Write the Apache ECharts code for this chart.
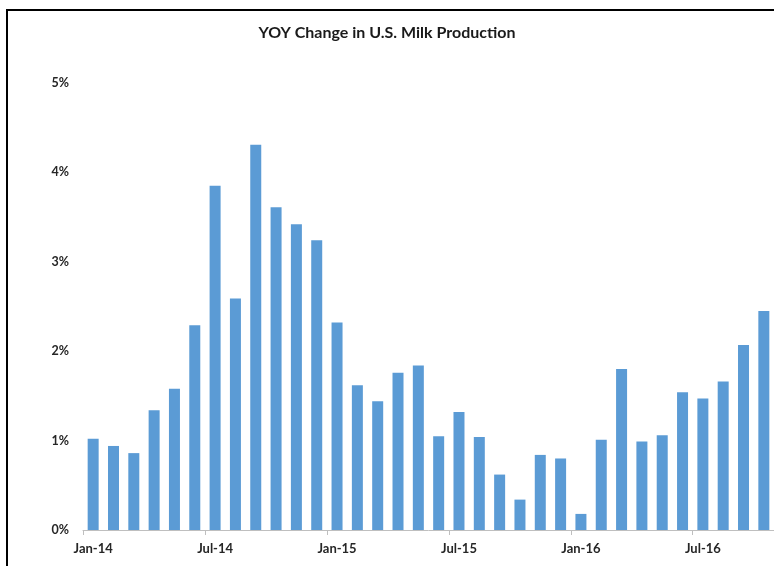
<!DOCTYPE html>
<html>
<head>
<meta charset="utf-8">
<script src="https://cdn.jsdelivr.net/npm/echarts@6/dist/echarts.min.js"></script>
<style>
html,body{margin:0;padding:0;background:#fff;overflow:hidden;}
#chart{width:774px;height:566px;}
</style>
</head>
<body>
<div id="chart"></div>
<script>
const chartTitle = "YOY Change in U.S. Milk Production";
const months = [
  "Jan-14","Feb-14","Mar-14","Apr-14","May-14","Jun-14","Jul-14","Aug-14","Sep-14","Oct-14","Nov-14","Dec-14",
  "Jan-15","Feb-15","Mar-15","Apr-15","May-15","Jun-15","Jul-15","Aug-15","Sep-15","Oct-15","Nov-15","Dec-15",
  "Jan-16","Feb-16","Mar-16","Apr-16","May-16","Jun-16","Jul-16","Aug-16","Sep-16","Oct-16"
];
const yoyChange = [
  1.02, 0.94, 0.86, 1.34, 1.58, 2.29, 3.85, 2.59, 4.31, 3.61, 3.42, 3.24,
  2.32, 1.62, 1.44, 1.76, 1.84, 1.05, 1.32, 1.04, 0.62, 0.34, 0.84, 0.80,
  0.18, 1.01, 1.80, 0.99, 1.06, 1.54, 1.47, 1.66, 2.07, 2.45
];
const yMin = 0, yMax = 5, yStep = 1;

const chart = echarts.init(document.getElementById('chart'), null, {renderer: 'canvas'});
const font = 'Lato, "Open Sans", sans-serif';
chart.setOption({
  backgroundColor: '#ffffff',
  animation: false,
  title: {
    text: chartTitle,
    left: 'center',
    top: 20,
    textStyle: {fontFamily: font, fontWeight: 'bold', fontSize: 16, color: '#1a1a1a'}
  },
  graphic: [
    {type: 'line', shape: {x1: 6, y1: 10, x2: 780, y2: 10}, style: {stroke: '#000', lineWidth: 2}, silent: true, z: 100},
    {type: 'line', shape: {x1: 7, y1: 9, x2: 7, y2: 570}, style: {stroke: '#000', lineWidth: 2}, silent: true, z: 100}
  ],
  grid: {left: 83, top: 83, width: 692, height: 447, containLabel: false},
  xAxis: {
    type: 'category',
    data: months,
    boundaryGap: true,
    axisLine: {show: true, lineStyle: {color: '#bfbfbf', width: 1}},
    axisTick: {show: true, interval: 5, length: 5, alignWithLabel: false, lineStyle: {color: '#bfbfbf'}},
    axisLabel: {
      interval: 5,
      margin: 12,
      fontFamily: font, fontWeight: 'bold', fontSize: 13, color: '#262626'
    },
    splitLine: {show: false}
  },
  yAxis: {
    type: 'value',
    min: yMin, max: yMax, interval: yStep,
    axisLine: {show: false},
    axisTick: {show: false},
    splitLine: {show: false},
    axisLabel: {
      margin: 14,
      formatter: v => v + '%',
      fontFamily: font, fontWeight: 'bold', fontSize: 12.5, color: '#262626'
    }
  },
  series: [{
    type: 'bar',
    data: yoyChange,
    barWidth: 11,
    itemStyle: {color: '#5b9bd5'}
  }]
});
</script>
</body>
</html>
